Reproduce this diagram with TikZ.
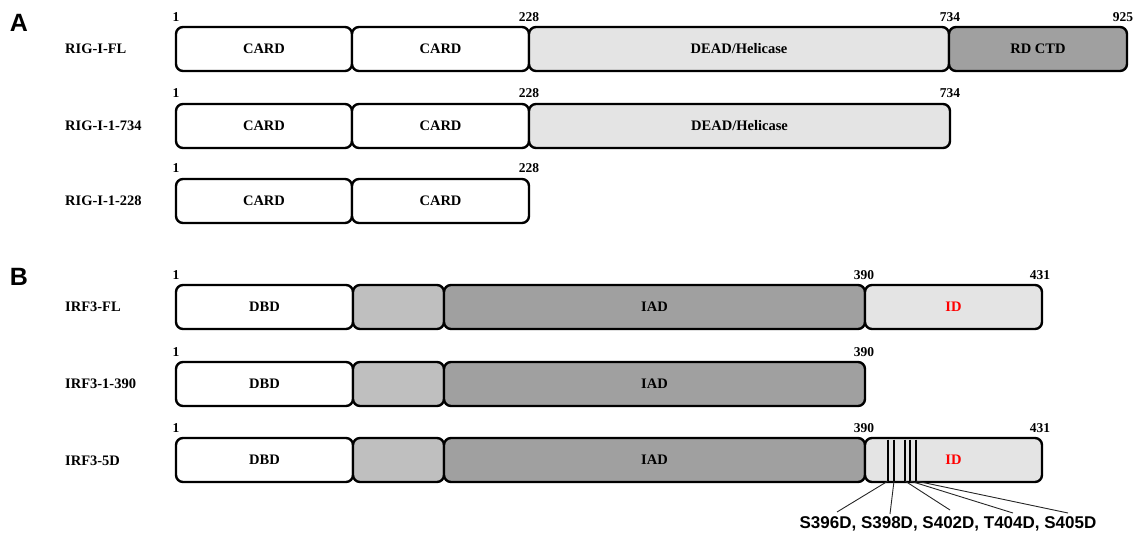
\documentclass[tikz,border=0pt]{standalone}
\usepackage{fontspec}
\setmainfont{Liberation Serif}
\newfontfamily\labsans{Liberation Sans}
\definecolor{lgray}{HTML}{E4E4E4}
\definecolor{mgray}{HTML}{BFBFBF}
\definecolor{dgray}{HTML}{A0A0A0}
\definecolor{idred}{HTML}{FF0000}
\begin{document}
\begin{tikzpicture}[x=1pt,y=-1pt,
  seg/.style={draw=black, line width=2.4pt, rounded corners=7pt, minimum height=44pt,
    inner sep=0pt, outer sep=0pt, anchor=north west, font=\bfseries\fontsize{14.5}{16}\selectfont},
  num/.style={anchor=base, inner sep=0pt, font=\bfseries\fontsize{13.5}{15}\selectfont},
  lab/.style={anchor=west, inner sep=0pt, font=\bfseries\fontsize{14.5}{16}\selectfont},
  panel/.style={anchor=center, inner sep=0pt, font=\labsans\bfseries\fontsize{25}{28}\selectfont},
  mut/.style={line width=2pt},
  lead/.style={line width=0.9pt, draw=black!85}]
\useasboundingbox (0,0) rectangle (1140,536);

% Panel letters
\node[panel] (pA) at (19,23) {A};
\node[panel] (pB) at (19,277) {B};

% ---------- A ----------
\node[lab] (l1) at (65,49) {RIG-I-FL};
\node[seg, fill=white, minimum width=176pt] (a1c1) at (176,27) {CARD};
\node[seg, fill=white, minimum width=177pt] (a1c2) at (352,27) {CARD};
\node[seg, fill=lgray, minimum width=420pt] (a1d) at (529,27) {DEAD/Helicase};
\node[seg, fill=dgray, minimum width=178pt] (a1r) at (949,27) {RD CTD};
\node[num] at (176,21) {1};
\node[num] at (529,21) {228};
\node[num] at (950,21) {734};
\node[num] at (1123,21) {925};

\node[lab] (l2) at (65,126) {RIG-I-1-734};
\node[seg, fill=white, minimum width=176pt] (a2c1) at (176,104) {CARD};
\node[seg, fill=white, minimum width=177pt] (a2c2) at (352,104) {CARD};
\node[seg, fill=lgray, minimum width=421pt] (a2d) at (529,104) {DEAD/Helicase};
\node[num] at (176,97) {1};
\node[num] at (529,97) {228};
\node[num] at (950,97) {734};

\node[lab] (l3) at (65,201) {RIG-I-1-228};
\node[seg, fill=white, minimum width=176pt] (a3c1) at (176,179) {CARD};
\node[seg, fill=white, minimum width=177pt] (a3c2) at (352,179) {CARD};
\node[num] at (176,172) {1};
\node[num] at (529,172) {228};

% ---------- B ----------
\node[lab] (l4) at (65,307) {IRF3-FL};
\node[seg, fill=white, minimum width=177pt] (b1d) at (176,285) {DBD};
\node[seg, fill=mgray, minimum width=91pt] (b1m) at (353,285) {};
\node[seg, fill=dgray, minimum width=421pt] (b1i) at (444,285) {IAD};
\node[seg, fill=lgray, minimum width=177pt, text=idred] (b1id) at (865,285) {ID};
\node[num] at (176,279) {1};
\node[num] at (864,279) {390};
\node[num] at (1040,279) {431};

\node[lab] (l5) at (65,384) {IRF3-1-390};
\node[seg, fill=white, minimum width=177pt] (b2d) at (176,362) {DBD};
\node[seg, fill=mgray, minimum width=91pt] (b2m) at (353,362) {};
\node[seg, fill=dgray, minimum width=421pt] (b2i) at (444,362) {IAD};
\node[num] at (176,356) {1};
\node[num] at (864,356) {390};

\node[lab] (l6) at (65,461) {IRF3-5D};
\node[seg, fill=white, minimum width=177pt] (b3d) at (176,438) {DBD};
\node[seg, fill=mgray, minimum width=91pt] (b3m) at (353,438) {};
\node[seg, fill=dgray, minimum width=421pt] (b3i) at (444,438) {IAD};
\node[seg, fill=lgray, minimum width=177pt, text=idred] (b3id) at (865,438) {ID};
\node[num] at (176,432) {1};
\node[num] at (864,432) {390};
\node[num] at (1040,432) {431};

% mutation marks
\foreach \i/\x in {1/888,2/894,3/905,4/910,5/916}{
  \coordinate (mt\i) at (\x,439.5);
  \coordinate (mb\i) at (\x,481);
  \draw[mut] (mt\i) -- (mb\i);
}
\coordinate (e1) at (837,512);
\coordinate (e2) at (890,514);
\coordinate (e3) at (950,510);
\coordinate (e4) at (1013,513);
\coordinate (e5) at (1068,513);
\foreach \i in {1,...,5}{ \draw[lead] (mb\i) -- (e\i); }

\node[anchor=center, inner sep=0pt, font=\labsans\bfseries\fontsize{17}{19}\selectfont] (mtext) at (948,524) {S396D, S398D, S402D, T404D, S405D};
\end{tikzpicture}
\end{document}
